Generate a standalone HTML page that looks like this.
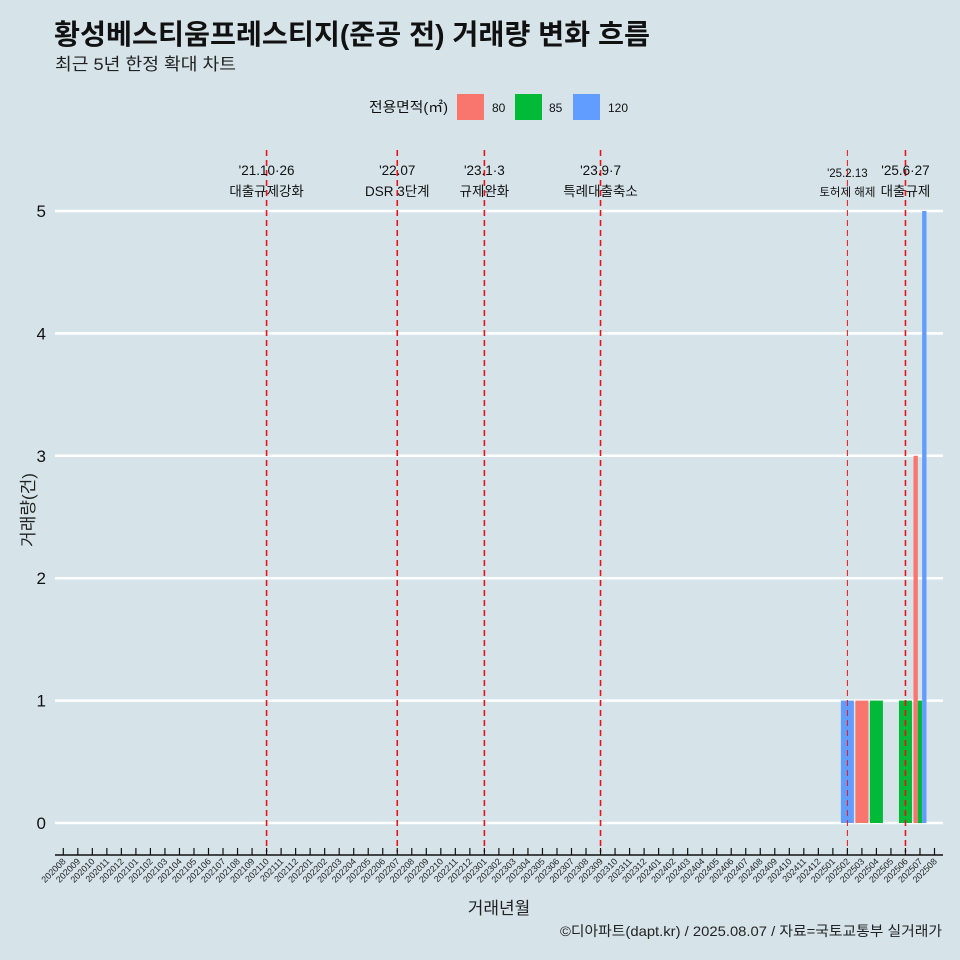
<!DOCTYPE html>
<html><head><meta charset="utf-8"><style>
body{margin:0;background:#d6e4ea;}
svg{display:block;font-family:"Liberation Sans","Noto Sans CJK KR",sans-serif;}
</style></head><body>
<svg id="chart" width="960" height="960" viewBox="0 0 960 960">
<rect width="960" height="960" fill="#d6e4ea"/>
<text x="54" y="44" font-size="28" font-weight="bold" fill="#111" textLength="596" lengthAdjust="spacingAndGlyphs">황성베스티움프레스티지(준공 전) 거래량 변화 흐름</text>
<text x="55" y="70" font-size="17" fill="#222" textLength="181" lengthAdjust="spacingAndGlyphs">최근 5년 한정 확대 차트</text>
<g>
<text x="369" y="112" font-size="14" fill="#111" textLength="79" lengthAdjust="spacingAndGlyphs">전용면적(㎡)</text>
<rect x="457" y="94" width="27" height="26" fill="#f8766d"/>
<text x="492" y="112" font-size="12" fill="#111">80</text>
<rect x="515" y="94" width="27" height="26" fill="#00ba38"/>
<text x="549" y="112" font-size="12" fill="#111">85</text>
<rect x="573" y="94" width="27" height="26" fill="#619cff"/>
<text x="608" y="112" font-size="12" fill="#111">120</text>
</g>
<g id="grid"></g><g id="bars"></g><g id="events"></g><g id="axes"></g>
<text transform="translate(34,510) rotate(-90)" text-anchor="middle" font-size="17" fill="#222">거래량(건)</text>
<text x="499" y="914" text-anchor="middle" font-size="17" fill="#222">거래년월</text>
<text x="560" y="936" font-size="14" fill="#222" textLength="382" lengthAdjust="spacingAndGlyphs">©디아파트(dapt.kr) / 2025.08.07 / 자료=국토교통부 실거래가</text>
</svg>
<script>
const months=[];for(let y=2020,m=8;!(y===2025&&m>8);){months.push(''+y+(m<10?'0':'')+m);m++;if(m>12){m=1;y++;}}
const sizes=['80','85','120'];
const colors={'80':'#f8766d','85':'#00ba38','120':'#619cff'};
const barMonths=['202502','202503','202504','202506','202507','202507','202507'];
const barSizes=['120','80','85','85','80','85','120'];
const barValues=[1,1,1,1,3,1,5];
const yTicks=[0,1,2,3,4,5];
const eventMonths=['202110','202207','202301','202309','202502','202506'];
const eventLine1=["'21.10·26","'22.07","'23.1·3","'23.9·7","'25.2.13","'25.6·27"];
const eventLine2=['대출규제강화','DSR 3단계','규제완화','특례대출축소','토허제 해제','대출규제'];
const eventSmall=[false,false,false,false,true,false];
const NS='http://www.w3.org/2000/svg';
const x=m=>63.3+14.52*months.indexOf(m);
const y=v=>823-122.4*v;
const BW=13;
function mk(tag,attrs,parent){const e=document.createElementNS(NS,tag);for(const k in attrs)e.setAttribute(k,attrs[k]);parent.appendChild(e);return e;}
const grid=document.getElementById('grid'),axes=document.getElementById('axes'),bars=document.getElementById('bars'),ev=document.getElementById('events');
yTicks.forEach(t=>{
 const l=mk('line',{x1:55,x2:943,y1:y(t),y2:y(t),stroke:'#fff','stroke-width':2.5},grid);
 
 
 const tx=mk('text',{x:46,y:y(t)+6,'text-anchor':'end','font-size':17,fill:'#111'},axes);tx.textContent=t;
 
 
});
const ax=mk('line',{x1:55,x2:943,y1:855,y2:855,stroke:'#111','stroke-width':1.5},axes);


months.forEach(m=>{
 const t=mk('line',{x1:x(m),x2:x(m),y1:848,y2:855,stroke:'#111','stroke-width':1.2},axes);
 
 
 const tx=mk('text',{transform:`translate(${x(m)+3},862) rotate(-45)`,'text-anchor':'end','font-size':9,fill:'#222'},axes);tx.textContent=m;
 
 
});
const counts={};barMonths.forEach(m=>counts[m]=(counts[m]||0)+1);
const seen={};
barMonths.forEach((m,i)=>{
 const n=counts[m];const k=seen[m]||0;seen[m]=k+1;
 const w=BW/n;const x0=x(m)-BW/2+k*w;
 const r=mk('rect',{x:x0,y:y(barValues[i]),width:w,height:y(0)-y(barValues[i]),fill:colors[barSizes[i]]},bars);
 
 
});
eventMonths.forEach((m,i)=>{
 const l=mk('line',{x1:x(m),x2:x(m),y1:150,y2:852,stroke:'#e8141b','stroke-width':eventSmall[i]?1:1.6,'stroke-dasharray':'6,4'},ev);
 
 
 const fs=eventSmall[i]?11.5:13.5;
 const t1=mk('text',{x:x(m),y:eventSmall[i]?177:175,'text-anchor':'middle','font-size':fs,fill:'#111'},ev);t1.textContent=eventLine1[i];
 
 
 const t2=mk('text',{x:x(m),y:196,'text-anchor':'middle','font-size':fs,fill:'#111'},ev);t2.textContent=eventLine2[i];
 
 
});
</script>
</body></html>
